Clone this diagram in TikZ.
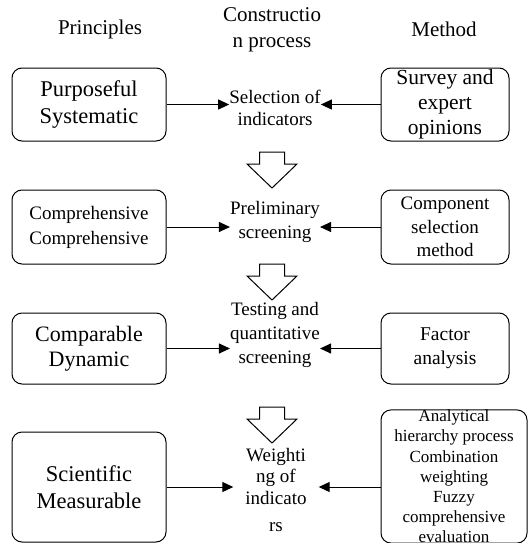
\documentclass[tikz,border=0pt]{standalone}
\usepackage{fontspec}
\setmainfont{Liberation Serif}
\usetikzlibrary{arrows.meta}

\tikzset{
  box/.style={draw, rounded corners=10pt, line width=1pt, align=center, inner sep=0pt},
  princ/.style={box, minimum width=154pt},
  meth/.style={box, minimum width=128pt},
  proc/.style={align=center, inner sep=0pt, minimum width=85pt},
  head/.style={align=center, font=\fontsize{21}{26}\selectfont},
  big/.style={font=\fontsize{22.5}{27}\selectfont},
  mid/.style={font=\fontsize{19}{23.5}\selectfont},
  link/.style={line width=1pt, -{Triangle[length=11pt,width=10pt]}},
  hollow/.style={draw, line width=1pt, fill=white, line join=miter},
}
% hollow block arrow pointing down, top centre at (#1,#2)
\newcommand\bigdown[2]{%
  \draw[hollow] (#1-12.5,#2) -- (#1+12.5,#2) -- (#1+12.5,#2+12)
    -- (#1+25,#2+12) -- (#1,#2+36) -- (#1-25,#2+12)
    -- (#1-12.5,#2+12) -- cycle;}

\begin{document}
\begin{tikzpicture}[x=1pt, y=-1pt]
  \useasboundingbox (0,0) rectangle (528,543);

  % column heads
  \node[head] (hprinc) at (100,29) {Principles};
  \node[head] (hproc) at (272,30) {Constructio\\n process};
  \node[head] (hmeth) at (444,29) {Method};

  % row 1
  \node[princ, big, minimum height=73pt] (p1) at (89,104.5) {Purposeful\\Systematic};
  \node[meth, font=\fontsize{21.5}{25}\selectfont, minimum height=73pt] (m1) at (445,104.5)
    {Survey and\\expert\\opinions};
  \node[proc, font=\fontsize{19}{21.5}\selectfont] (s1) at (275,108) {Selection of\\indicators};

  % row 2
  \node[princ, font=\fontsize{19}{25}\selectfont, minimum height=74pt] (p2) at (89,227)
    {Comprehensive\\Comprehensive};
  \node[meth, mid, minimum height=74pt] (m2) at (445,227) {Component\\selection\\method};
  \node[proc, mid] (s2) at (275,222) {Preliminary\\screening};

  % row 3
  \node[princ, font=\fontsize{22}{25}\selectfont, minimum height=71pt] (p3) at (89,348.5)
    {Comparable\\Dynamic};
  \node[meth, font=\fontsize{19.5}{24}\selectfont, minimum height=71pt] (m3) at (445,348.5)
    {Factor\\analysis};
  \node[proc, font=\fontsize{19}{24}\selectfont] (s3) at (275,335)
    {Testing and\\quantitative\\screening};

  % row 4
  \node[princ, big, minimum height=110pt] (p4) at (89,487) {Scientific\\Measurable};
  \node[box, font=\fontsize{17}{20.2}\selectfont, minimum width=146pt, minimum height=131pt]
    (m4) at (454,476.5)
    {Analytical\\hierarchy process\\Combination\\weighting\\Fuzzy\\comprehensive\\evaluation};
  \node[proc, font=\fontsize{19}{21.5}\selectfont] (s4) at (276,490)
    {Weighti\\ng of\\indicato\\[6pt]rs};

  % arrows into the process column
  \foreach \r in {1,2,3,4} {
    \draw[link] (p\r.east) -- (p\r.east -| s\r.west);
    \draw[link] (m\r.west |- p\r.east) -- (p\r.east -| s\r.east);
  }

  % steps of the process
  \bigdown{272}{152}
  \bigdown{272}{264}
  \bigdown{272}{407}
\end{tikzpicture}
\end{document}
